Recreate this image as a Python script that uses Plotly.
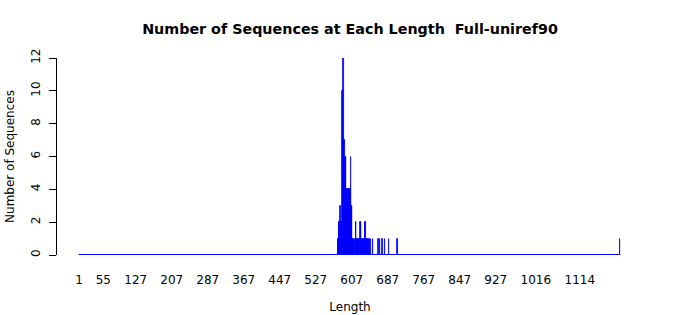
import plotly.graph_objects as go

# Sequence lengths present and their counts
lengths = [577, 578, 579, 580, 581, 582, 583, 584, 585, 586,
           587, 588, 589, 590, 591, 592, 593, 594, 595, 596,
           597, 598, 599, 600, 601, 602, 603, 604, 605, 606,
           607, 608, 609, 610, 611, 612, 614, 616, 617, 618,
           620, 622, 624, 627, 628, 629, 631, 633, 635, 637,
           638, 640, 642, 644, 646, 648, 650, 654, 667, 670,
           675, 681, 690, 709, 1203]
counts = [1, 1, 2, 2, 2, 3, 2, 2, 2, 2,
          10, 10, 12, 7, 7, 6, 6, 6, 2, 4,
          4, 4, 4, 4, 4, 4, 4, 4, 1, 6,
          3, 3, 1, 1, 1, 1, 1, 2, 2, 1,
          1, 1, 1, 2, 2, 1, 1, 1, 1, 2,
          2, 1, 1, 1, 1, 1, 1, 1, 1, 1,
          1, 1, 1, 1, 1]

x_tick_vals = [1, 55, 127, 207, 287, 367, 447, 527, 607, 687, 767, 847, 927, 1016, 1114]
y_tick_vals = [0, 2, 4, 6, 8, 10, 12]

BLUE = "#0000FF"
FONT = "DejaVu Sans"

fig = go.Figure()
# baseline formed by the zero-height bars across the full length range
fig.add_trace(go.Scatter(
    x=[x_tick_vals[0] - 0.5, lengths[-1] + 0.5], y=[0, 0],
    mode="lines", line=dict(color=BLUE, width=2),
    hoverinfo="skip", showlegend=False))
fig.add_trace(go.Bar(
    x=lengths, y=counts, width=1,
    marker=dict(color=BLUE, line=dict(color=BLUE, width=0.8)),
    showlegend=False))

fig.update_layout(
    width=700, height=315,
    margin=dict(l=57, r=57, t=58, b=60),
    plot_bgcolor="white", paper_bgcolor="white",
    font=dict(family=FONT, size=12, color="black"),
    bargap=0,
    title=dict(text="<b>Number of Sequences at Each Length  Full-uniref90</b>",
               x=0.5, xanchor="center", y=1 - 29 / 315, yanchor="middle",
               font=dict(family=FONT, size=14.3, color="black")),
    xaxis=dict(
        range=[-47.9, 1254.3],
        automargin=False,
        tickmode="array", tickvals=x_tick_vals,
        ticktext=[str(v) for v in x_tick_vals],
        showline=False, showgrid=False, zeroline=False,
        ticks="outside", ticklen=14, tickcolor="rgba(0,0,0,0)",
        tickfont=dict(size=12),
        title=dict(text="Length", standoff=16, font=dict(size=12)),
    ),
    yaxis=dict(
        range=[0, 12],
        automargin=False,
        tickmode="array", tickvals=y_tick_vals,
        showline=True, linecolor="black", linewidth=1,
        showgrid=False, zeroline=False,
        ticks="outside", ticklen=7, tickcolor="black", tickwidth=1,
        tickangle=-90, tickfont=dict(size=12), ticklabelstandoff=4,
        title=dict(text="Number of Sequences", standoff=12, font=dict(size=12)),
    ),
)

fig.write_html("out.html")
